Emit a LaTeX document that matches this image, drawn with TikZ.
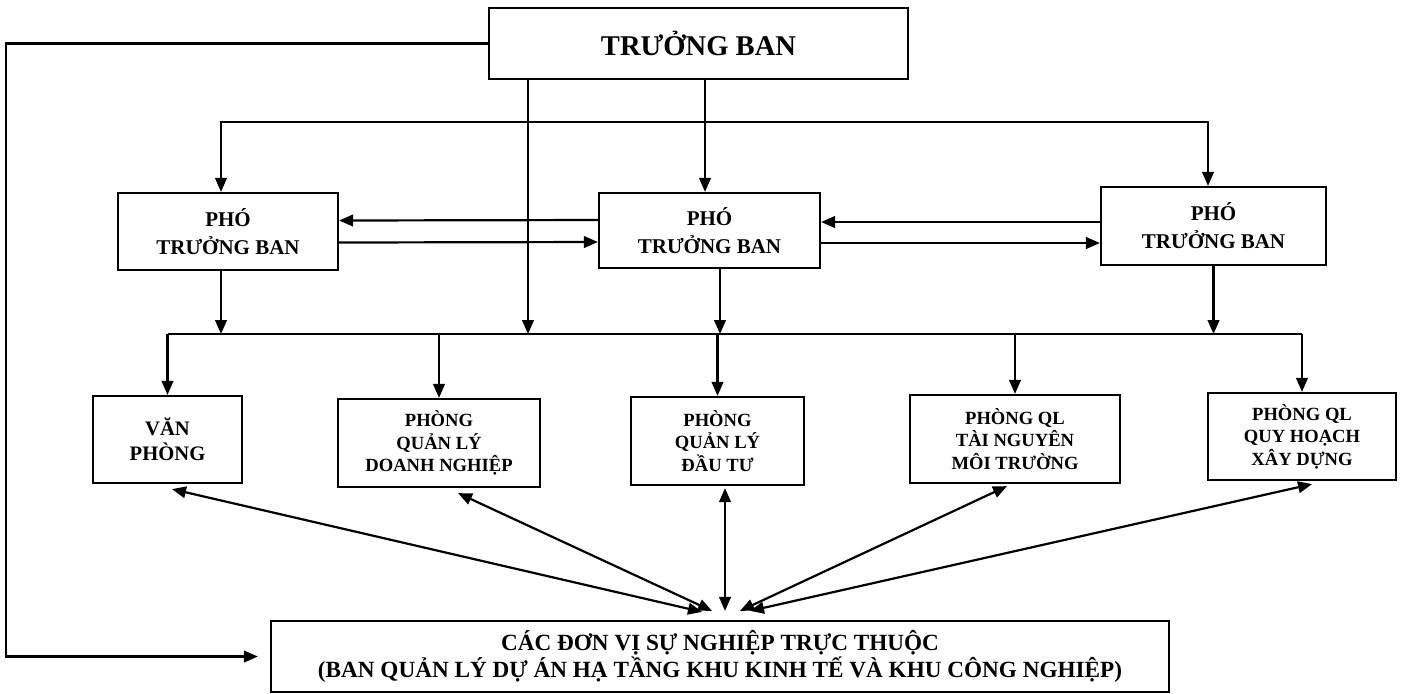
\documentclass[tikz,border=0pt]{standalone}
\usepackage{fontspec}
\setmainfont{Liberation Serif}
\usetikzlibrary{arrows.meta}
\begin{document}
\begin{tikzpicture}[x=0.5pt, y=-0.5pt, >={Triangle[length=7pt,width=5.8pt]}, line width=1.1pt,
    hop/.style={draw, line width=1.1pt, inner sep=0pt, align=center}]
    \useasboundingbox (0,0) rectangle (1411,693);

    % 1. Trưởng ban và các phó trưởng ban
    \node[hop, minimum width=209.5pt, minimum height=35.5pt, font=\bfseries\fontsize{14.3}{16}\selectfont] (tb) at (698.5,43.5) {TRƯỞNG BAN};
    \node[hop, minimum width=110pt, minimum height=38.5pt, font=\bfseries\fontsize{10.5}{14}\selectfont] (pho1) at (228,231.5) {PHÓ\\TRƯỞNG BAN};
    \node[hop, minimum width=110.5pt, minimum height=37.5pt, font=\bfseries\fontsize{10.5}{14}\selectfont] (pho2) at (709.5,230.5) {PHÓ\\TRƯỞNG BAN};
    \node[hop, minimum width=112.5pt, minimum height=39pt, font=\bfseries\fontsize{10.5}{14}\selectfont] (pho3) at (1213.5,226) {PHÓ\\TRƯỞNG BAN};

    % 2. Các phòng
    \node[hop, minimum width=74.5pt, minimum height=43.5pt, font=\bfseries\fontsize{10.3}{12.5}\selectfont] (vp) at (167.5,439.5) {VĂN\\PHÒNG};
    \node[hop, minimum width=101pt, minimum height=44pt, font=\bfseries\fontsize{9.3}{11.25}\selectfont] (dn) at (439,443) {PHÒNG\\QUẢN LÝ\\DOANH NGHIỆP};
    \node[hop, minimum width=86.5pt, minimum height=44pt, font=\bfseries\fontsize{9.3}{11.25}\selectfont] (dt) at (717.5,441) {PHÒNG\\QUẢN LÝ\\ĐẦU TƯ};
    \node[hop, minimum width=105pt, minimum height=44pt, font=\bfseries\fontsize{9.3}{11.25}\selectfont] (tn) at (1015,439) {PHÒNG QL\\TÀI NGUYÊN\\MÔI TRƯỜNG};
    \node[hop, minimum width=94pt, minimum height=43.5pt, font=\bfseries\fontsize{9.3}{11.25}\selectfont] (qh) at (1302,436.5) {PHÒNG QL\\QUY HOẠCH\\XÂY DỰNG};

    % 3. Các đơn vị sự nghiệp
    \node[hop, minimum width=449pt, minimum height=35.5pt, font=\bfseries\fontsize{11.6}{10.8}\selectfont] (bot) at (720,656.5) {CÁC ĐƠN VỊ SỰ NGHIỆP TRỰC THUỘC\\(BAN QUẢN LÝ DỰ ÁN HẠ TẦNG KHU KINH TẾ VÀ KHU CÔNG NGHIỆP)};

    % 4. Đường chỉ đạo
    \draw[->] (tb.west) -- ++(-482,0) |- ([xshift=-6pt]bot.west);
    \draw[<->] ([xshift=-3.5pt]pho1.north) -- ++(0,-70) -| ([xshift=-2.75pt]pho3.north);
    \coordinate (p2top) at ([xshift=-2.25pt]pho2.north);
    \draw[->] (p2top |- tb.south) -- (p2top);

    % 5. Đường ngang phía trên các phòng
    \coordinate (bus) at (0,334);
    \draw (vp.north |- bus) -- (qh.north |- bus);
    \draw[->] (vp.north |- bus) -- (vp.north);
    \draw[->] (dn.north |- bus) -- (dn.north);
    \draw[->] (dt.north |- bus) -- (dt.north);
    \draw[->] (tn.north |- bus) -- (tn.north);
    \draw[->] (qh.north |- bus) -- (qh.north);
    \coordinate (p1bot) at ([xshift=-3.5pt]pho1.south);
    \coordinate (tbbot) at ([xshift=-85.25pt]tb.south);
    \coordinate (p2bot) at ([xshift=5.25pt]pho2.south);
    \draw[->] (p1bot) -- (p1bot |- bus);
    \draw[->] (tbbot) -- (tbbot |- bus);
    \draw[->] (p2bot) -- (p2bot |- bus);
    \draw[->] (pho3.south) -- (pho3.south |- bus);

    % 6. Phối hợp giữa các phó trưởng ban
    \draw[->] ([yshift=5.25pt]pho2.west) -- ([yshift=5.5pt]pho1.east);
    \draw[->] ([yshift=-5.5pt]pho1.east) -- ([yshift=-5.75pt]pho2.west);
    \draw[->] ([yshift=2pt]pho3.west) -- ([yshift=4.25pt]pho2.east);
    \draw[->] ([yshift=-6.25pt]pho2.east) -- ([yshift=-8.5pt]pho3.west);

    % 7. Quan hệ hai chiều với đơn vị sự nghiệp
    \draw[<->] ([shift={(4.5,5)}]vp.south) -- ([shift={(-18,-8)}]bot.north);
    \draw[<->] ([shift={(19,5)}]dn.south) -- ([shift={(-8,-9)}]bot.north);
    \draw[<->] ([shift={(7.5,2)}]dt.south) -- ([shift={(5,-9)}]bot.north);
    \draw[<->] ([shift={(-8,2)}]tn.south) -- ([shift={(20,-9)}]bot.north);
    \draw[<->] ([shift={(10,3)}]qh.south) -- ([shift={(30,-9)}]bot.north);
\end{tikzpicture}
\end{document}
